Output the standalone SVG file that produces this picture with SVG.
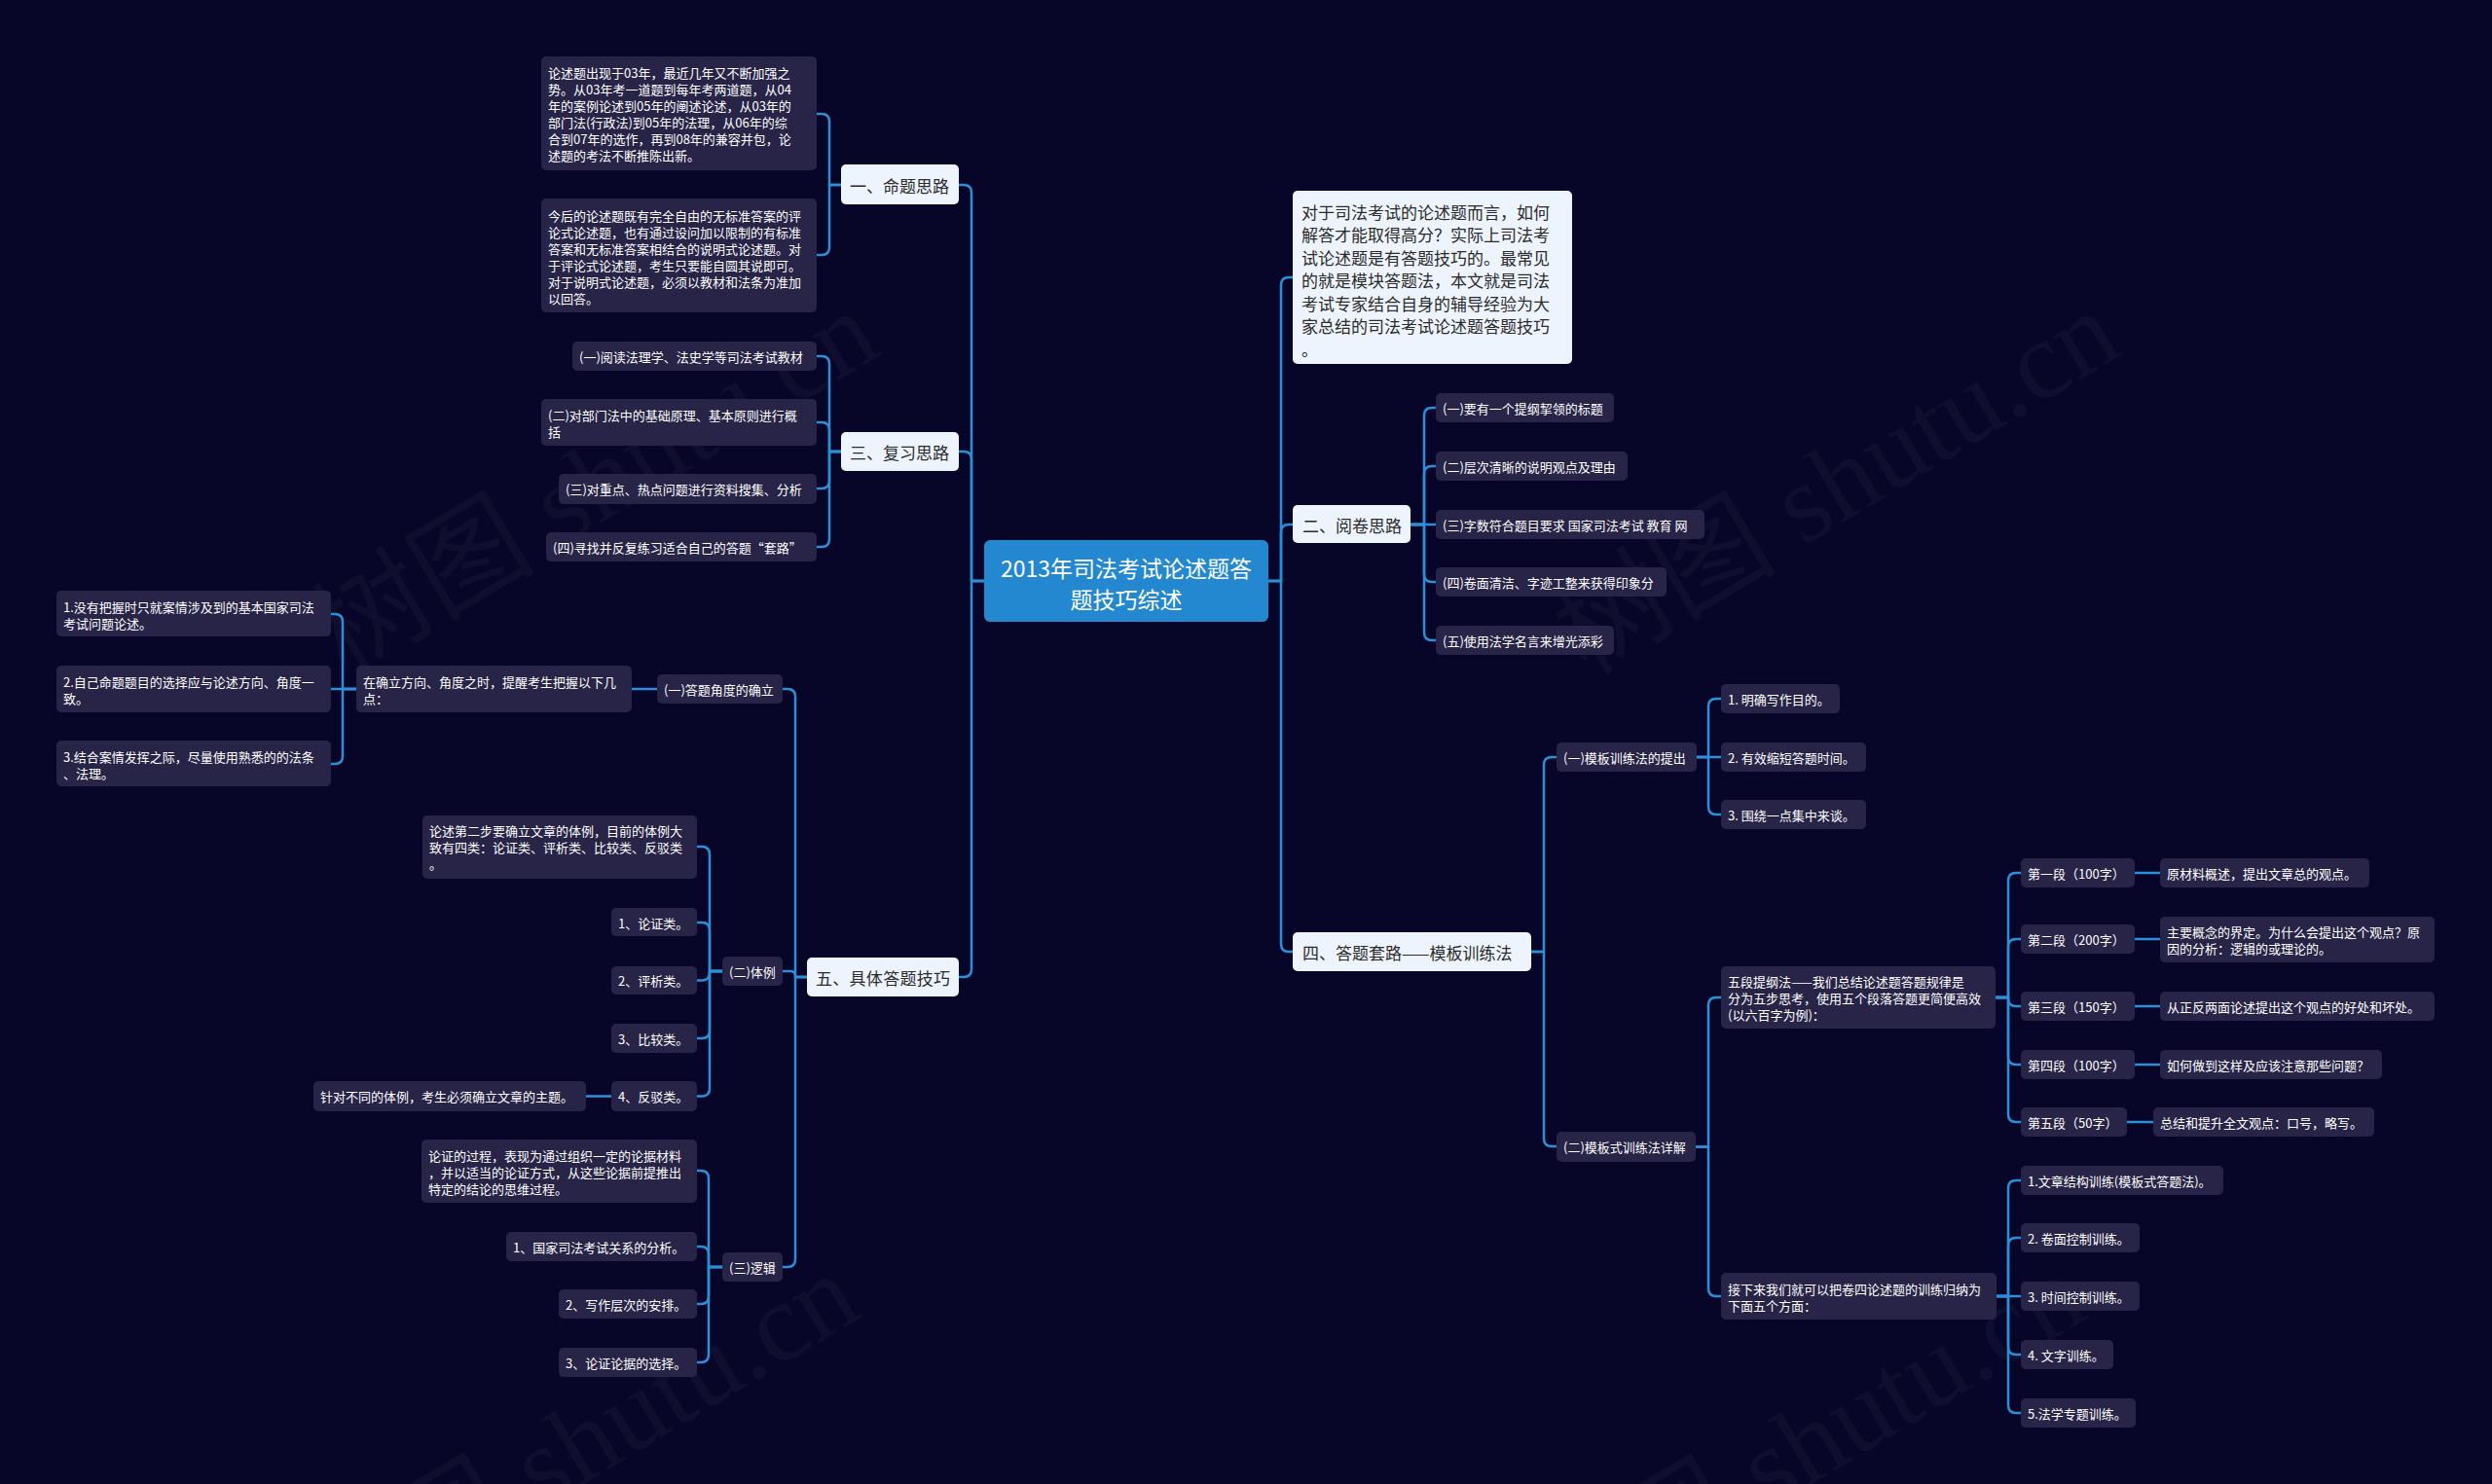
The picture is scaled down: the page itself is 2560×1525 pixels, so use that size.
<svg xmlns="http://www.w3.org/2000/svg" width="2560" height="1525" viewBox="0 0 2560 1525">
<style>
text{font-family:"Noto Sans CJK SC","Noto Sans",sans-serif;dominant-baseline:central}
.bg{fill:#080628}
.d rect{fill:#272447}
.d text{fill:#ffffff;font-size:13px}
.l rect{fill:#eef4fd}
.l text{fill:#2b2b2b;font-size:17px}
.root rect{fill:#2388cf}
.root text{fill:#ffffff;font-size:23px;text-anchor:middle}
.wm{fill:#ffffff;fill-opacity:0.035;font-family:"Liberation Serif","Noto Sans CJK SC",serif;font-size:115px;dominant-baseline:auto}
#edges path{fill:none;stroke:#2b8fd9;stroke-width:2.5;stroke-linejoin:round;stroke-linecap:round}
</style>
<rect class="bg" x="0" y="0" width="2560" height="1525"/>
<g id="watermark">
<text class="wm" transform="translate(355,695) rotate(-31)">树图 shutu.cn</text>
<text class="wm" transform="translate(1630,695) rotate(-31)">树图 shutu.cn</text>
<text class="wm" transform="translate(335,1684) rotate(-31)">树图 shutu.cn</text>
<text class="wm" transform="translate(1595,1685) rotate(-31)">树图 shutu.cn</text>
</g>
<g id="edges">
<path d="M1011 597 H998 V198 Q998 190 990 190 H985"/>
<path d="M1011 597 H998 V472 Q998 464 990 464 H985"/>
<path d="M1011 597 H998 V996 Q998 1004 990 1004 H985"/>
<path d="M1303 597 H1316 V293 Q1316 285 1324 285 H1328"/>
<path d="M1303 597 H1316 V547 Q1316 539 1324 539 H1328"/>
<path d="M1303 597 H1316 V970 Q1316 978 1324 978 H1328"/>
<path d="M864 190 H852 V125 Q852 117 844 117 H839"/>
<path d="M864 190 H852 V254 Q852 262 844 262 H839"/>
<path d="M864 464 H852 V374 Q852 366 844 366 H839"/>
<path d="M864 464 H852 V442 Q852 434 844 434 H839"/>
<path d="M864 464 H852 V494 Q852 502 844 502 H839"/>
<path d="M864 464 H852 V554 Q852 562 844 562 H839"/>
<path d="M829 1004 H817 V716 Q817 708 809 708 H804"/>
<path d="M829 1004 H817 V1003 Q817 998 812 998 H804"/>
<path d="M829 1004 H817 V1294 Q817 1302 809 1302 H804"/>
<path d="M675 708 H649"/>
<path d="M366 708 H352 V639 Q352 631 344 631 H340"/>
<path d="M366 708 H340"/>
<path d="M366 708 H352 V777 Q352 785 344 785 H340"/>
<path d="M742 998 H729 V878 Q729 870 721 870 H716"/>
<path d="M742 998 H729 V956 Q729 948 721 948 H716"/>
<path d="M742 998 H729 V999.5 Q729 1007.5 721 1007.5 H716"/>
<path d="M742 998 H729 V1059 Q729 1067 721 1067 H716"/>
<path d="M742 998 H729 V1118.5 Q729 1126.5 721 1126.5 H716"/>
<path d="M628 1126.5 H602"/>
<path d="M742 1302 H728 V1211 Q728 1203 720 1203 H716"/>
<path d="M742 1302 H728 V1289 Q728 1281 720 1281 H716"/>
<path d="M742 1302 H728 V1332 Q728 1340 720 1340 H716"/>
<path d="M742 1302 H728 V1392 Q728 1400 720 1400 H716"/>
<path d="M1449 539 H1463 V427 Q1463 419 1471 419 H1475"/>
<path d="M1449 539 H1463 V487 Q1463 479 1471 479 H1475"/>
<path d="M1449 539 H1475"/>
<path d="M1449 539 H1463 V590 Q1463 598 1471 598 H1475"/>
<path d="M1449 539 H1463 V650 Q1463 658 1471 658 H1475"/>
<path d="M1573 978 H1586 V786 Q1586 778 1594 778 H1599"/>
<path d="M1573 978 H1586 V1170 Q1586 1178 1594 1178 H1599"/>
<path d="M1743 778 H1755 V726 Q1755 718 1763 718 H1768"/>
<path d="M1743 778 H1768"/>
<path d="M1743 778 H1755 V829 Q1755 837 1763 837 H1768"/>
<path d="M1742 1178.5 H1755 V1033 Q1755 1025 1763 1025 H1768"/>
<path d="M1742 1178.5 H1755 V1324 Q1755 1332 1763 1332 H1768"/>
<path d="M2050 1025 H2063 V905 Q2063 897 2071 897 H2076"/>
<path d="M2050 1025 H2063 V973 Q2063 965 2071 965 H2076"/>
<path d="M2050 1025 H2063 V1026 Q2063 1034 2071 1034 H2076"/>
<path d="M2050 1025 H2063 V1086 Q2063 1094 2071 1094 H2076"/>
<path d="M2050 1025 H2063 V1145 Q2063 1153 2071 1153 H2076"/>
<path d="M2193 897 H2219"/>
<path d="M2193 965 H2219"/>
<path d="M2193 1034 H2219"/>
<path d="M2193 1094 H2219"/>
<path d="M2185 1153 H2212"/>
<path d="M2051 1332 H2063 V1221 Q2063 1213 2071 1213 H2076"/>
<path d="M2051 1332 H2063 V1280 Q2063 1272 2071 1272 H2076"/>
<path d="M2051 1332 H2076"/>
<path d="M2051 1332 H2063 V1384 Q2063 1392 2071 1392 H2076"/>
<path d="M2051 1332 H2063 V1444 Q2063 1452 2071 1452 H2076"/>
</g>
<g id="root" class="root"><rect x="1011" y="555" width="292" height="84" rx="6"/><text x="1157" y="583">2013年司法考试论述题答</text><text x="1157" y="615">题技巧综述</text></g>
<g id="n1" class="l"><rect x="864" y="169" width="121" height="41" rx="5"/><text x="873" y="190">一、命题思路</text></g>
<g id="n3" class="l"><rect x="864" y="444" width="121" height="40" rx="5"/><text x="873" y="464">三、复习思路</text></g>
<g id="n5" class="l"><rect x="829" y="984" width="156" height="40" rx="5"/><text x="838" y="1004" textLength="138" lengthAdjust="spacing">五、具体答题技巧</text></g>
<g id="r1" class="l"><rect x="1328" y="196" width="287" height="178" rx="5"/>
<text x="1337" y="217">对于司法考试的论述题而言，如何</text>
<text x="1337" y="240.5">解答才能取得高分？实际上司法考</text>
<text x="1337" y="264">试论述题是有答题技巧的。最常见</text>
<text x="1337" y="287.5">的就是模块答题法，本文就是司法</text>
<text x="1337" y="311">考试专家结合自身的辅导经验为大</text>
<text x="1337" y="334.5">家总结的司法考试论述题答题技巧</text>
<text x="1337" y="358">。</text></g>
<g id="n2" class="l"><rect x="1328" y="519" width="121" height="39" rx="5"/><text x="1338" y="539">二、阅卷思路</text></g>
<g id="n4" class="l"><rect x="1328" y="958" width="245" height="40" rx="5"/><text x="1338" y="978">四、答题套路——模板训练法</text></g>
<g id="a1" class="d"><rect x="556" y="58" width="283" height="117" rx="5"/>
<text x="563" y="74">论述题出现于03年，最近几年又不断加强之</text>
<text x="563" y="91">势。从03年考一道题到每年考两道题，从04</text>
<text x="563" y="108">年的案例论述到05年的阐述论述，从03年的</text>
<text x="563" y="125">部门法(行政法)到05年的法理，从06年的综</text>
<text x="563" y="142">合到07年的选作，再到08年的兼容并包，论</text>
<text x="563" y="159">述题的考法不断推陈出新。</text></g>
<g id="a2" class="d"><rect x="556" y="204" width="283" height="117" rx="5"/>
<text x="563" y="221">今后的论述题既有完全自由的无标准答案的评</text>
<text x="563" y="238">论式论述题，也有通过设问加以限制的有标准</text>
<text x="563" y="255">答案和无标准答案相结合的说明式论述题。对</text>
<text x="563" y="272">于评论式论述题，考生只要能自圆其说即可。</text>
<text x="563" y="289">对于说明式论述题，必须以教材和法条为准加</text>
<text x="563" y="306">以回答。</text></g>
<g id="b1" class="d"><rect x="588" y="351" width="251" height="30" rx="5"/><text x="595" y="366">(一)阅读法理学、法史学等司法考试教材</text></g>
<g id="b2" class="d"><rect x="556" y="410" width="283" height="48" rx="5"/><text x="563" y="426.5">(二)对部门法中的基础原理、基本原则进行概</text><text x="563" y="443.5">括</text></g>
<g id="b3" class="d"><rect x="574" y="487" width="265" height="31" rx="5"/><text x="581" y="502.5">(三)对重点、热点问题进行资料搜集、分析</text></g>
<g id="b4" class="d"><rect x="561" y="547" width="278" height="30" rx="5"/><text x="568" y="562">(四)寻找并反复练习适合自己的答题“套路”</text></g>
<g id="c1" class="d"><rect x="58" y="607" width="282" height="47" rx="5"/><text x="65" y="623">1.没有把握时只就案情涉及到的基本国家司法</text><text x="65" y="640">考试问题论述。</text></g>
<g id="c2" class="d"><rect x="58" y="684" width="282" height="48" rx="5"/><text x="65" y="700">2.自己命题题目的选择应与论述方向、角度一</text><text x="65" y="717">致。</text></g>
<g id="c3" class="d"><rect x="58" y="761" width="282" height="47" rx="5"/><text x="65" y="777">3.结合案情发挥之际，尽量使用熟悉的的法条</text><text x="65" y="794">、法理。</text></g>
<g id="c4" class="d"><rect x="366" y="684" width="283" height="48" rx="5"/><text x="373" y="700">在确立方向、角度之时，提醒考生把握以下几</text><text x="373" y="717">点：</text></g>
<g id="c5" class="d"><rect x="675" y="693" width="129" height="30" rx="5"/><text x="682" y="708">(一)答题角度的确立</text></g>
<g id="d1" class="d"><rect x="434" y="838" width="282" height="65" rx="5"/><text x="441" y="853">论述第二步要确立文章的体例，目前的体例大</text><text x="441" y="870">致有四类：论证类、评析类、比较类、反驳类</text><text x="441" y="887">。</text></g>
<g id="d2" class="d"><rect x="628" y="933" width="88" height="29" rx="5"/><text x="635" y="948">1、论证类。</text></g>
<g id="d3" class="d"><rect x="628" y="993" width="88" height="29" rx="5"/><text x="635" y="1007.5">2、评析类。</text></g>
<g id="d4" class="d"><rect x="628" y="1052" width="88" height="30" rx="5"/><text x="635" y="1067">3、比较类。</text></g>
<g id="d5" class="d"><rect x="628" y="1111" width="88" height="31" rx="5"/><text x="635" y="1126.5">4、反驳类。</text></g>
<g id="d6" class="d"><rect x="322" y="1111" width="280" height="31" rx="5"/><text x="329" y="1126.5">针对不同的体例，考生必须确立文章的主题。</text></g>
<g id="d7" class="d"><rect x="742" y="983" width="62" height="30" rx="5"/><text x="749" y="998">(二)体例</text></g>
<g id="e1" class="d"><rect x="433" y="1171" width="283" height="65" rx="5"/><text x="440" y="1187">论证的过程，表现为通过组织一定的论据材料</text><text x="440" y="1204">，并以适当的论证方式，从这些论据前提推出</text><text x="440" y="1221">特定的结论的思维过程。</text></g>
<g id="e2" class="d"><rect x="520" y="1266" width="196" height="30" rx="5"/><text x="527" y="1281">1、国家司法考试关系的分析。</text></g>
<g id="e3" class="d"><rect x="574" y="1325" width="142" height="30" rx="5"/><text x="581" y="1340">2、写作层次的安排。</text></g>
<g id="e4" class="d"><rect x="574" y="1385" width="142" height="30" rx="5"/><text x="581" y="1400">3、论证论据的选择。</text></g>
<g id="e5" class="d"><rect x="742" y="1287" width="62" height="30" rx="5"/><text x="749" y="1302">(三)逻辑</text></g>
<g id="f1" class="d"><rect x="1475" y="404" width="183" height="30" rx="5"/><text x="1482" y="419">(一)要有一个提纲挈领的标题</text></g>
<g id="f2" class="d"><rect x="1475" y="464" width="197" height="30" rx="5"/><text x="1482" y="479">(二)层次清晰的说明观点及理由</text></g>
<g id="f3" class="d"><rect x="1475" y="524" width="276" height="30" rx="5"/><text x="1482" y="539">(三)字数符合题目要求 国家司法考试 教育 网</text></g>
<g id="f4" class="d"><rect x="1475" y="583" width="237" height="30" rx="5"/><text x="1482" y="598">(四)卷面清洁、字迹工整来获得印象分</text></g>
<g id="f5" class="d"><rect x="1475" y="643" width="183" height="30" rx="5"/><text x="1482" y="658">(五)使用法学名言来增光添彩</text></g>
<g id="g1" class="d"><rect x="1599" y="763" width="144" height="30" rx="5"/><text x="1606" y="778">(一)模板训练法的提出</text></g>
<g id="g2" class="d"><rect x="1768" y="703" width="122" height="30" rx="5"/><text x="1775" y="718">1. 明确写作目的。</text></g>
<g id="g3" class="d"><rect x="1768" y="763" width="149" height="30" rx="5"/><text x="1775" y="778">2. 有效缩短答题时间。</text></g>
<g id="g4" class="d"><rect x="1768" y="822" width="149" height="30" rx="5"/><text x="1775" y="837">3. 围绕一点集中来谈。</text></g>
<g id="g5" class="d"><rect x="1599" y="1163" width="143" height="31" rx="5"/><text x="1606" y="1178.5">(二)模板式训练法详解</text></g>
<g id="h0" class="d"><rect x="1768" y="993" width="282" height="64" rx="5"/><text x="1775" y="1008">五段提纲法——我们总结论述题答题规律是</text><text x="1775" y="1025">分为五步思考，使用五个段落答题更简便高效</text><text x="1775" y="1042">(以六百字为例)：</text></g>
<g id="p1" class="d"><rect x="2076" y="882" width="117" height="30" rx="5"/><text x="2083" y="897">第一段（100字）</text></g>
<g id="q1" class="d"><rect x="2219" y="882" width="215" height="30" rx="5"/><text x="2226" y="897">原材料概述，提出文章总的观点。</text></g>
<g id="p2" class="d"><rect x="2076" y="950" width="117" height="30" rx="5"/><text x="2083" y="965">第二段（200字）</text></g>
<g id="q2" class="d"><rect x="2219" y="942" width="282" height="47" rx="5"/><text x="2226" y="957.5">主要概念的界定。为什么会提出这个观点？原</text><text x="2226" y="974.5">因的分析：逻辑的或理论的。</text></g>
<g id="p3" class="d"><rect x="2076" y="1019" width="117" height="30" rx="5"/><text x="2083" y="1034">第三段（150字）</text></g>
<g id="q3" class="d"><rect x="2219" y="1019" width="282" height="30" rx="5"/><text x="2226" y="1034">从正反两面论述提出这个观点的好处和坏处。</text></g>
<g id="p4" class="d"><rect x="2076" y="1079" width="117" height="30" rx="5"/><text x="2083" y="1094">第四段（100字）</text></g>
<g id="q4" class="d"><rect x="2219" y="1079" width="228" height="30" rx="5"/><text x="2226" y="1094">如何做到这样及应该注意那些问题？</text></g>
<g id="p5" class="d"><rect x="2076" y="1138" width="109" height="30" rx="5"/><text x="2083" y="1153">第五段（50字）</text></g>
<g id="q5" class="d"><rect x="2212" y="1138" width="227" height="30" rx="5"/><text x="2219" y="1153">总结和提升全文观点：口号，略写。</text></g>
<g id="i0" class="d"><rect x="1768" y="1308" width="283" height="48" rx="5"/><text x="1775" y="1324">接下来我们就可以把卷四论述题的训练归纳为</text><text x="1775" y="1341">下面五个方面：</text></g>
<g id="j1" class="d"><rect x="2076" y="1198" width="208" height="30" rx="5"/><text x="2083" y="1213">1.文章结构训练(模板式答题法)。</text></g>
<g id="j2" class="d"><rect x="2076" y="1257" width="122" height="30" rx="5"/><text x="2083" y="1272">2. 卷面控制训练。</text></g>
<g id="j3" class="d"><rect x="2076" y="1317" width="122" height="30" rx="5"/><text x="2083" y="1332">3. 时间控制训练。</text></g>
<g id="j4" class="d"><rect x="2076" y="1377" width="95" height="30" rx="5"/><text x="2083" y="1392">4. 文字训练。</text></g>
<g id="j5" class="d"><rect x="2076" y="1437" width="118" height="30" rx="5"/><text x="2083" y="1452">5.法学专题训练。</text></g>
</svg>
